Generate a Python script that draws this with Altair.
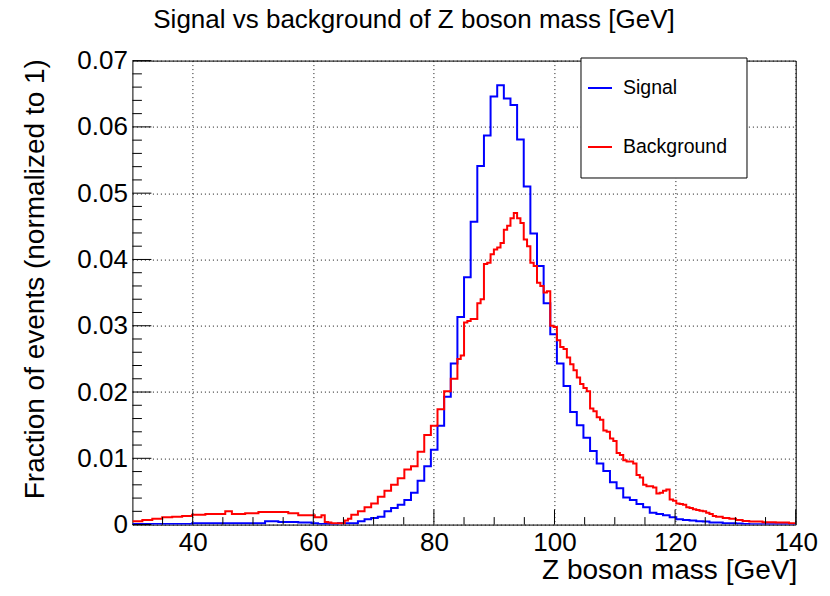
import altair as alt
import pandas as pd

# ---------------- data ----------------
X_MIN, X_MAX = 30.0, 140.0
N_SIGNAL_BINS = 100
N_BACKGROUND_BINS = 200

signal_vals = (
    [0.0001] * 9 + [0.0002] * 11 +
    [0.0005, 0.0005, 0.0004, 0.0004, 0.0004, 0.0003, 0.0003, 0.0002, 0.0001, 0.0001,
     0.0001, 0.0002, 0.0002, 0.0002, 0.0005, 0.0008, 0.0010, 0.0012, 0.0020, 0.0025,
     0.0030, 0.0037, 0.0048, 0.0066, 0.0088, 0.0113, 0.0149, 0.0193, 0.0243, 0.0313,
     0.0373, 0.0457, 0.0541, 0.0587, 0.0646, 0.0663, 0.0643, 0.0633, 0.0581, 0.0510,
     0.0439, 0.0390, 0.0334, 0.0287, 0.0243, 0.0209, 0.0170, 0.0150, 0.0131, 0.0111,
     0.0092, 0.0081, 0.0064, 0.0055, 0.0041, 0.0037, 0.0031, 0.0026, 0.0018, 0.0016,
     0.0014, 0.0011, 0.0008, 0.0007, 0.0006, 0.0005, 0.00045, 0.0003, 0.0003, 0.0002,
     0.0002, 0.00015, 0.0001] +
    [0.00005] * 7
)

background_vals = (
    [0.0005] * 3 + [0.0007] * 3 + [0.0009] * 3 + [0.0011] * 3 + [0.0012] * 3 +
    [0.0013] * 3 + [0.0015] * 4 + [0.0016] * 6 + [0.0020] * 2 + [0.0016] * 4 +
    [0.0017] * 4 + [0.0019] * 9 + [0.0017] * 3 + [0.0014] * 5 +
    [0.0011, 0.0011, 0.0014, 0.0004, 0.0003] + [0.0002] * 4 +
    [0.0006, 0.0009, 0.0015, 0.0015, 0.0020, 0.0020, 0.0026, 0.0026, 0.0032, 0.0032,
     0.0042, 0.0042, 0.0051, 0.0051, 0.0060, 0.0060, 0.0070, 0.0070, 0.0083, 0.0083,
     0.0088, 0.0088, 0.0110, 0.0110, 0.0135, 0.0135, 0.0149, 0.0149, 0.0174, 0.0174,
     0.0201, 0.0201, 0.0220, 0.0220, 0.0250, 0.0255, 0.0305, 0.0307, 0.0310, 0.0310,
     0.0334, 0.0340, 0.0393, 0.0395, 0.0408, 0.0415, 0.0418, 0.0425, 0.0445, 0.0451,
     0.0462, 0.0470, 0.0462, 0.0455, 0.0430, 0.0420, 0.0395, 0.0390, 0.0365, 0.0360,
     0.0350, 0.0352, 0.0300, 0.0298, 0.0278, 0.0268, 0.0265, 0.0252, 0.0242, 0.0233,
     0.0222, 0.0212, 0.0206, 0.0201, 0.0175, 0.0171, 0.0162, 0.0158, 0.0142, 0.0140,
     0.0130, 0.0126, 0.0108, 0.0105, 0.0097, 0.0095, 0.0095, 0.0092, 0.0075, 0.0071,
     0.0060, 0.0058, 0.0058, 0.0056, 0.0047, 0.0048, 0.0051, 0.0053, 0.0038, 0.0036,
     0.0032, 0.0031, 0.0030, 0.0026, 0.0025, 0.0023, 0.0022, 0.0021, 0.0020, 0.0018,
     0.0016, 0.0013, 0.0012, 0.0012, 0.0010, 0.0010, 0.0009, 0.0009, 0.0007, 0.0007,
     0.00055, 0.00055] +
    [0.00045] * 4 + [0.00035] * 4 + [0.0003] * 4 + [0.0002] * 2
)

series_names = ["Signal", "Background"]
series_colors = ["#0000ff", "#ff0000"]

x_major = [40, 60, 80, 100, 120, 140]
x_minor = [35, 45, 50, 55, 65, 70, 75, 85, 90, 95, 105, 110, 115, 125, 130, 135]
y_major = [0.0, 0.01, 0.02, 0.03, 0.04, 0.05, 0.06, 0.07]
y_minor = [0.002, 0.004, 0.006, 0.008, 0.012, 0.014, 0.016, 0.018,
           0.022, 0.024, 0.026, 0.028, 0.032, 0.034, 0.036, 0.038,
           0.042, 0.044, 0.046, 0.048, 0.052, 0.054, 0.056, 0.058,
           0.062, 0.064, 0.066, 0.068]

title_text = "Signal vs background of Z boson mass [GeV]"
x_title = "Z boson mass [GeV]"
y_title = "Fraction of events (normalized to 1)"


def step_table(vals, nbins, name):
    w = (X_MAX - X_MIN) / nbins
    xs = [X_MIN + i * w for i in range(nbins)] + [X_MAX]
    ys = list(vals) + [vals[-1]]
    return pd.DataFrame({"x": xs, "y": ys, "series": name})


hist_df = pd.concat([
    step_table(signal_vals, N_SIGNAL_BINS, series_names[0]),
    step_table(background_vals, N_BACKGROUND_BINS, series_names[1]),
], ignore_index=True)

W, H = 663.3, 464
FONT = "Liberation Sans"

X_ENC = alt.X(
    "x:Q",
    scale=alt.Scale(domain=[X_MIN, X_MAX], nice=False, zero=False),
    axis=alt.Axis(
        values=x_major, grid=True, gridColor="#111", gridDash=[1, 3], gridWidth=1,
        ticks=False, tickSize=0, domain=False,
        labelFont=FONT, labelFontSize=26, labelColor="black", labelPadding=5,
        labelFlush=False, labelOverlap=False, labelBound=False,
        title=x_title, titleFont=FONT, titleFontSize=28, titleFontWeight="normal",
        titleColor="black", titleAnchor="end", titleAlign="right",
        titleBaseline="alphabetic", titleX=W + 1, titleY=54,
    ),
)
Y_ENC = alt.Y(
    "y:Q",
    scale=alt.Scale(domain=[0, 0.07], nice=False, zero=True),
    axis=alt.Axis(
        values=y_major, grid=True, gridColor="#111", gridDash=[1, 3], gridWidth=1,
        ticks=False, tickSize=0, domain=False,
        labelFont=FONT, labelFontSize=26, labelColor="black", labelPadding=5,
        labelFlush=False, labelOverlap=False, labelBound=False,
        labelExpr="datum.value == 0 ? '0' : format(datum.value, '.2f')",
        title=y_title, titleFont=FONT, titleFontSize=28, titleFontWeight="normal",
        titleColor="black", titleAngle=270, titleAnchor="end", titleAlign="right",
        titleBaseline="alphabetic", titleX=-89, titleY=-2,
    ),
)

hist = alt.Chart(hist_df).mark_line(
    interpolate="step-after", strokeWidth=2, clip=True
).encode(
    x=X_ENC,
    y=Y_ENC,
    color=alt.Color("series:N", scale=alt.Scale(domain=series_names, range=series_colors), legend=None),
    detail="series:N",
)

xmaj = alt.Chart(pd.DataFrame({"x": x_major})).mark_rule(color="black", strokeWidth=1).encode(
    x=X_ENC, y=alt.value(H), y2=alt.value(H - 15))
xmin = alt.Chart(pd.DataFrame({"x": x_minor})).mark_rule(color="black", strokeWidth=1).encode(
    x=X_ENC, y=alt.value(H), y2=alt.value(H - 7.5))
ymaj = alt.Chart(pd.DataFrame({"y": y_major})).mark_rule(color="black", strokeWidth=1).encode(
    y=Y_ENC, x=alt.value(0), x2=alt.value(19))
ymin = alt.Chart(pd.DataFrame({"y": y_minor})).mark_rule(color="black", strokeWidth=1).encode(
    y=Y_ENC, x=alt.value(0), x2=alt.value(9.5))

one = pd.DataFrame({"a": [0]})

title_mark = alt.Chart(one).mark_text(
    text=title_text, font=FONT, fontSize=26, color="black", align="center", baseline="alphabetic"
).encode(x=alt.value(281.6), y=alt.value(-32.6))

legend_box = alt.Chart(one).mark_rect(fill="white", stroke="black", strokeWidth=1).encode(
    x=alt.value(448.6), x2=alt.value(614.6), y=alt.value(-2.6), y2=alt.value(117.4))

legend_layers = []
for name, color, ypix in zip(series_names, series_colors, [27.4, 86.4]):
    legend_layers.append(
        alt.Chart(one).mark_rule(color=color, strokeWidth=2).encode(
            x=alt.value(455.6), x2=alt.value(479.6), y=alt.value(ypix)))
    legend_layers.append(
        alt.Chart(one).mark_text(text=name, font=FONT, fontSize=19.5, color="black",
                                 align="left", baseline="middle").encode(
            x=alt.value(490.6), y=alt.value(ypix)))

chart = alt.layer(
    hist, xmaj, xmin, ymaj, ymin, legend_box, *legend_layers, title_mark
).properties(
    width=W, height=H,
    autosize=alt.AutoSizeParams(type="none"),
    padding={"left": 124.4, "top": 52.6, "right": 26, "bottom": 63},
    background="white",
).configure_view(
    stroke="black", strokeWidth=1
)

chart.save("out.html", embed_options={"renderer": "svg", "actions": False})
